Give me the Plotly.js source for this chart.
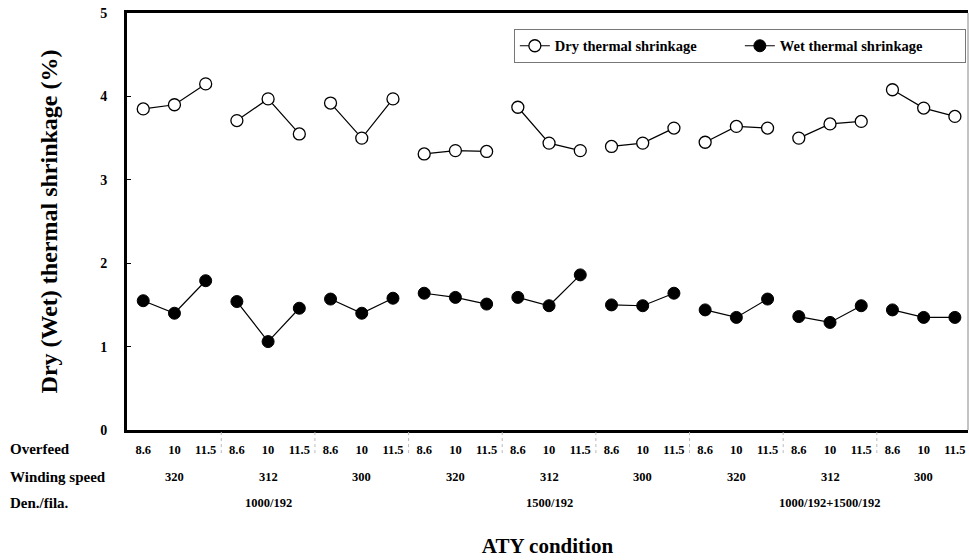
<!DOCTYPE html>
<html><head><meta charset="utf-8">
<script src="https://cdn.plot.ly/plotly-3.0.1.min.js"></script>
<style>body{margin:0;background:#fff}#chart{width:969px;height:560px}</style>
</head><body><div id="chart"></div>
<script>
const overfeed = ['8.6','10','11.5','8.6','10','11.5','8.6','10','11.5','8.6','10','11.5','8.6','10','11.5','8.6','10','11.5','8.6','10','11.5','8.6','10','11.5','8.6','10','11.5'];
const windingSpeed = ['320','312','300','320','312','300','320','312','300'];
const denFila = ['1000/192','1500/192','1000/192+1500/192'];
const dryShrink = [3.85,3.90,4.15, 3.71,3.97,3.55, 3.92,3.50,3.97, 3.31,3.35,3.34, 3.87,3.44,3.35, 3.40,3.44,3.62, 3.45,3.64,3.62, 3.50,3.67,3.70, 4.08,3.86,3.76];
const wetShrink = [1.55,1.40,1.79, 1.54,1.06,1.46, 1.57,1.40,1.58, 1.64,1.59,1.51, 1.59,1.49,1.86, 1.50,1.49,1.64, 1.44,1.35,1.57, 1.36,1.29,1.49, 1.44,1.35,1.35];

const F = 'Liberation Serif, Times New Roman, serif';
const idx = overfeed.map((_, i) => i);

// break the line between groups of three
function gapped(vals){
  const xs = [], ys = [];
  vals.forEach((v, i) => {
    if (i > 0 && i % 3 === 0){ xs.push(null); ys.push(null); }
    xs.push(i); ys.push(v);
  });
  return {xs, ys};
}
const d = gapped(dryShrink), w = gapped(wetShrink);

const traces = [
  {x: d.xs, y: d.ys, name: 'Dry thermal shrinkage', mode: 'lines+markers', connectgaps: false,
   line: {color: '#000', width: 1.2},
   marker: {symbol: 'circle', size: 12, color: '#fff', line: {color: '#000', width: 1.3}}},
  {x: w.xs, y: w.ys, name: 'Wet thermal shrinkage', mode: 'lines+markers', connectgaps: false,
   line: {color: '#000', width: 1.2},
   marker: {symbol: 'circle', size: 12, color: '#000', line: {color: '#000', width: 1}}}
];

const annotations = [];
const rowY = {over: 19, wind: 47, den: 73};
[['Overfeed', rowY.over], ['Winding speed', rowY.wind], ['Den./fila.', rowY.den]].forEach(([t, s]) => {
  annotations.push({text: t, xref: 'paper', yref: 'paper', x: -0.142, y: 0, yshift: -s,
    xanchor: 'left', yanchor: 'middle', showarrow: false,
    font: {family: F, size: 15, color: '#000', weight: 'bold'}});
});
windingSpeed.forEach((t, g) => {
  annotations.push({text: t, xref: 'x', yref: 'paper', x: g * 3 + 1, y: 0, yshift: -rowY.wind,
    xanchor: 'center', yanchor: 'middle', showarrow: false,
    font: {family: F, size: 12.5, color: '#000', weight: 'bold'}});
});
denFila.forEach((t, g) => {
  annotations.push({text: t, xref: 'x', yref: 'paper', x: g * 9 + 4, y: 0, yshift: -rowY.den,
    xanchor: 'center', yanchor: 'middle', showarrow: false,
    font: {family: F, size: 12.5, color: '#000', weight: 'bold'}});
});

const shapes = [
  {type: 'line', xref: 'paper', yref: 'paper', x0: 1, x1: 1, y0: 0, y1: 1,
   line: {color: '#888', width: 1}}
];
[3,6,9,12,15,18,21,24].forEach(b => {
  shapes.push({type: 'line', xref: 'x', yref: 'paper', x0: b - 0.5, x1: b - 0.5, y0: -0.005, y1: -0.06,
    line: {color: '#bbb', width: 1, dash: 'dot'}});
});

const layout = {
  width: 969, height: 560,
  margin: {l: 127, r: 1, t: 13, b: 130},
  paper_bgcolor: '#fff', plot_bgcolor: '#fff',
  font: {family: F, color: '#000'},
  showlegend: true,
  legend: {orientation: 'h', x: 0.46, y: 0.962, xanchor: 'left', yanchor: 'top',
    bgcolor: '#fff', bordercolor: '#777', borderwidth: 1,
    entrywidth: 180, entrywidthmode: 'pixels', itemwidth: 30,
    font: {family: F, size: 14.5, color: '#000', weight: 'bold'}},
  xaxis: {range: [-0.52, 26.42], tickmode: 'array', tickvals: idx, ticktext: overfeed,
    showgrid: false, zeroline: false, showline: true, mirror: true, linecolor: '#000', linewidth: 3,
    ticks: '', ticklabelstandoff: 6,
    tickfont: {family: F, size: 12.5, color: '#000', weight: 'bold'},
    title: {text: 'ATY condition', standoff: 83, font: {family: F, size: 21, color: '#000', weight: 'bold'}}},
  yaxis: {range: [0, 5], tickvals: [0,1,2,3,4,5], showgrid: false, zeroline: false,
    showline: true, linecolor: '#000', linewidth: 3, ticks: 'inside', ticklen: 4, tickcolor: '#000',
    ticklabelstandoff: 14,
    tickfont: {family: F, size: 14, color: '#000', weight: 'bold'},
    title: {text: 'Dry (Wet) thermal shrinkage (%)', standoff: 36, font: {family: F, size: 24, color: '#000', weight: 'bold'}}},
  annotations, shapes
};
Plotly.newPlot('chart', traces, layout, {displayModeBar: false, staticPlot: true});
</script></body></html>
